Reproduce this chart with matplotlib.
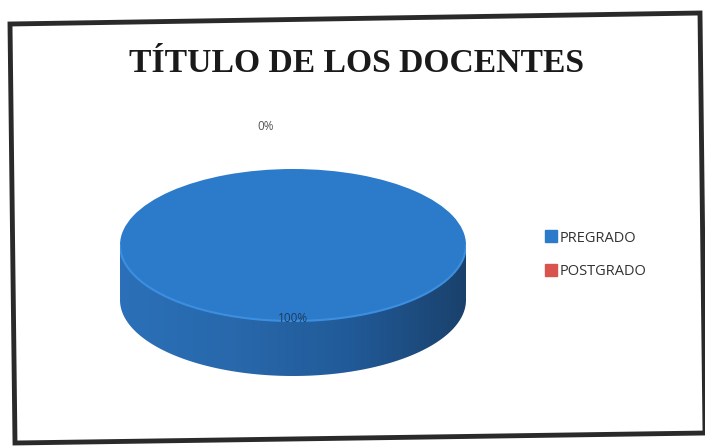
import numpy as np
import matplotlib
matplotlib.use("Agg")
import matplotlib.pyplot as plt
from matplotlib.patches import Polygon, PathPatch
from matplotlib.path import Path
from matplotlib.lines import Line2D
from matplotlib.colors import LinearSegmentedColormap

categories = ["PREGRADO", "POSTGRADO"]
values = [100, 0]
colors_top = ["#2c7bcb", "#d9534f"]
title = "TÍTULO DE LOS DOCENTES"

W, H = 705, 446
fig = plt.figure(figsize=(W / 100, H / 100), dpi=100)
fig.patch.set_facecolor("white")

# frame (slightly tilted scan)
frame = Polygon([(10 / W, 1 - 24 / H), (700 / W, 1 - 13 / H), (705 / W, 1 - 433 / H), (15 / W, 1 - 443 / H)],
                closed=True, transform=fig.transFigure, fill=False, edgecolor="#2a2a2a", linewidth=3.5)
fig.patches.append(frame)

# pie axes: x [-1,1] -> 346 px, y [-1,1] -> 152 px, depth 55 px
a_px, b_px, d_px = 173, 76, 55
cx, cy_top = 293, 245
depth = d_px / b_px
left_px = cx - a_px
top_px = cy_top - b_px
height_px = 2 * b_px + d_px
ax = fig.add_axes([left_px / W, 1 - (top_px + height_px) / H, 2 * a_px / W, height_px / H])

# side of the disc
t = np.linspace(np.pi, 2 * np.pi, 200)
xs = np.cos(t)
ys = np.sin(t)
verts = np.concatenate([np.column_stack([xs, ys]), np.column_stack([xs[::-1], ys[::-1] - depth])])
side_path = Path(np.vstack([verts, verts[:1]]), closed=True)
side_patch = PathPatch(side_path, facecolor="none", edgecolor="none")
ax.add_patch(side_patch)
grad = np.linspace(0, 1, 256).reshape(1, -1)
cmap = LinearSegmentedColormap.from_list("side", ["#2b70b8", "#2868ab", "#215a98", "#1a416c"])
im = ax.imshow(grad, cmap=cmap, extent=[-1, 1, -1 - depth, 0], aspect="auto", zorder=1)
im.set_clip_path(side_patch)

# top face
wedges, _ = ax.pie(values, colors=colors_top, startangle=90, counterclock=False, radius=1,
                   wedgeprops=dict(linewidth=0), frame=True)
for w in wedges:
    w.set_zorder(3)
# light front rim
ax.plot(xs, ys, color="#3c8fe0", linewidth=1.5, zorder=4)
ax.set_aspect("auto")
ax.set_xlim(-1, 1)
ax.set_ylim(-1 - depth, 1)
ax.axis("off")

total = sum(values)
labels_pct = [f"{v / total * 100:.0f}%" for v in values]
lbl_font = ["Open Sans", "DejaVu Sans"]
fig.text(293 / W, 1 - 318 / H, labels_pct[0], ha="center", va="center", fontsize=8.5,
         color="#1e3a5a", family=lbl_font)
fig.text(266 / W, 1 - 127 / H, labels_pct[1], ha="center", va="center", fontsize=8.5,
         color="#555555", family=lbl_font)

# title
fig.text(357 / W, 1 - 63 / H, title, ha="center", va="center", fontsize=24.2, fontweight="bold",
         family="Liberation Serif", color="#1a1a1a")

# legend
handles = [Line2D([], [], marker="s", linestyle="none", markersize=8, markerfacecolor=c, markeredgecolor=c)
           for c in colors_top]
fig.legend(handles, categories, loc="center left", bbox_to_anchor=(531 / W, 1 - 255 / H), frameon=False,
           prop=dict(family=lbl_font, size=10.5), handletextpad=0.05, labelspacing=1.3, handlelength=1.0,
           labelcolor="#333333")

fig.savefig("out.png", dpi=100, facecolor="white")
